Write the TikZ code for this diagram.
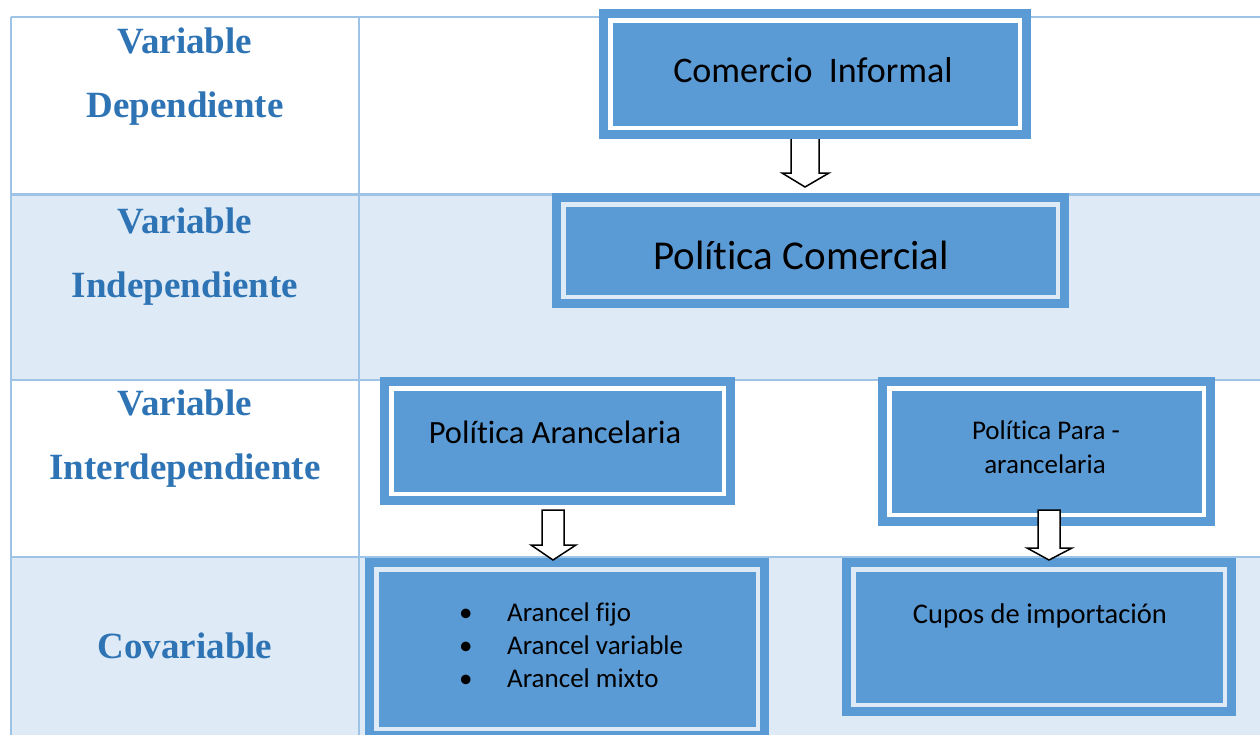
\documentclass[tikz,border=0pt]{standalone}
\usepackage{fontspec}
\setmainfont{Carlito}[Ligatures={NoCommon}]
\newfontfamily\tnr{Liberation Serif}
\usetikzlibrary{calc}
\definecolor{boxblue}{HTML}{5B9BD5}
\definecolor{tline}{HTML}{9DC3E6}
\definecolor{rowbg}{HTML}{DEEAF6}
\definecolor{labblue}{HTML}{2E74B5}
\begin{document}
\begin{tikzpicture}[x=1pt,y=-1pt,
  vbox/.style={draw=boxblue, fill=boxblue, line width=9pt, double distance=4.5pt,
    inner sep=0pt, outer sep=0pt},
  gapw/.style={double=white},
  gapb/.style={double=rowbg},
  tl/.style={draw=tline, line width=1.5pt},
  lab/.style={anchor=base, inner sep=0pt, text=labblue, font=\tnr\bfseries\fontsize{37}{44}\selectfont},
  btxt/.style={anchor=base, inner sep=0pt, text=black},
  blockarr/.style={draw=black, fill=white, line width=1.5pt, line join=miter}]
\useasboundingbox (0,0) rectangle (1260,734);
\clip (0,0) rectangle (1260,734);
\fill[white] (0,0) rectangle (1260,734);
% table rows
\fill[rowbg] (11,194) rectangle (1262,380);
\fill[rowbg] (11,557) rectangle (1262,736);
\draw[tl] (11,17) -- (1262,17);
\draw[tl] (11,17) -- (11,736);
\draw[tl] (359,17) -- (359,736);
\draw[tl, line width=3pt] (11,194.5) -- (1262,194.5);
\draw[tl] (11,380) -- (1262,380);
\draw[tl] (11,557) -- (1262,557);
% left labels
\node[lab] (v1a) at (185,53) {Variable};
\node[lab] (v1b) at (185,117) {Dependiente};
\node[lab] (v2a) at (185,233) {Variable};
\node[lab] (v2b) at (185,297) {Independiente};
\node[lab] (v3a) at (185,415) {Variable};
\node[lab] (v3b) at (185,479) {Interdependiente};
\node[lab] (v4a) at (185,658) {Covariable};
% boxes
\node[vbox, gapw, minimum width=409.5pt, minimum height=107.5pt] (ci) at (815,74) {};
\node[vbox, gapb, minimum width=494.5pt, minimum height=92.5pt] (pc) at (810.5,250.5) {};
\node[vbox, gapw, minimum width=332.5pt, minimum height=105.5pt] (pa) at (557.5,441) {};
\node[vbox, gapw, minimum width=314.5pt, minimum height=126.5pt] (pp) at (1046.5,451.5) {};
\node[vbox, gapb, minimum width=381.5pt, minimum height=159.5pt] (ar) at (567,649) {};
\node[vbox, gapb, minimum width=371.5pt, minimum height=135.5pt] (cu) at (1039,637) {};
% box texts
\node[btxt, font=\fontsize{36}{43}\selectfont] (tci) at (813,82) {Comercio\ \ Informal};
\node[btxt, font=\fontsize{41}{49}\selectfont] (tpc) at (801,269) {Política Comercial};
\node[btxt, font=\fontsize{32.5}{39}\selectfont] (tpa) at (555,443) {Política Arancelaria};
\node[btxt, font=\fontsize{27}{34}\selectfont] (tpp1) at (1046,439) {Política Para -};
\node[btxt, font=\fontsize{27}{34}\selectfont] (tpp2) at (1045,473) {arancelaria};
\node[btxt, font=\fontsize{28.5}{34}\selectfont] (tcu) at (1040,623) {Cupos de importación};
\node[btxt, anchor=base west, font=\fontsize{27}{33}\selectfont] (b1) at (459,621) {\makebox[48pt][l]{\textbullet}Arancel fijo};
\node[btxt, anchor=base west, font=\fontsize{27}{33}\selectfont] (b2) at (459,654) {\makebox[48pt][l]{\textbullet}Arancel variable};
\node[btxt, anchor=base west, font=\fontsize{27}{33}\selectfont] (b3) at (459,687) {\makebox[48pt][l]{\textbullet}Arancel mixto};
% block arrows
\coordinate (t1) at (805,187);
\coordinate (t2) at (553,560);
\coordinate (t3) at (1049,560);
\draw[blockarr, shift={(t1)}] (-14,-48) -- (-14,-14) -- (-23,-14) -- (0,0) -- (24,-14) -- (14,-14) -- (14,-48);
\draw[blockarr, shift={(t2)}] (-11,-50) -- (-11,-15) -- (-22,-15) -- (0,0) -- (23,-15) -- (11,-15) -- (11,-50) -- cycle;
\draw[blockarr, shift={(t3)}] (-11,-50) -- (-11,-12) -- (-22,-12) -- (0,0) -- (23,-12) -- (11,-12) -- (11,-50) -- cycle;
\end{tikzpicture}
\end{document}
